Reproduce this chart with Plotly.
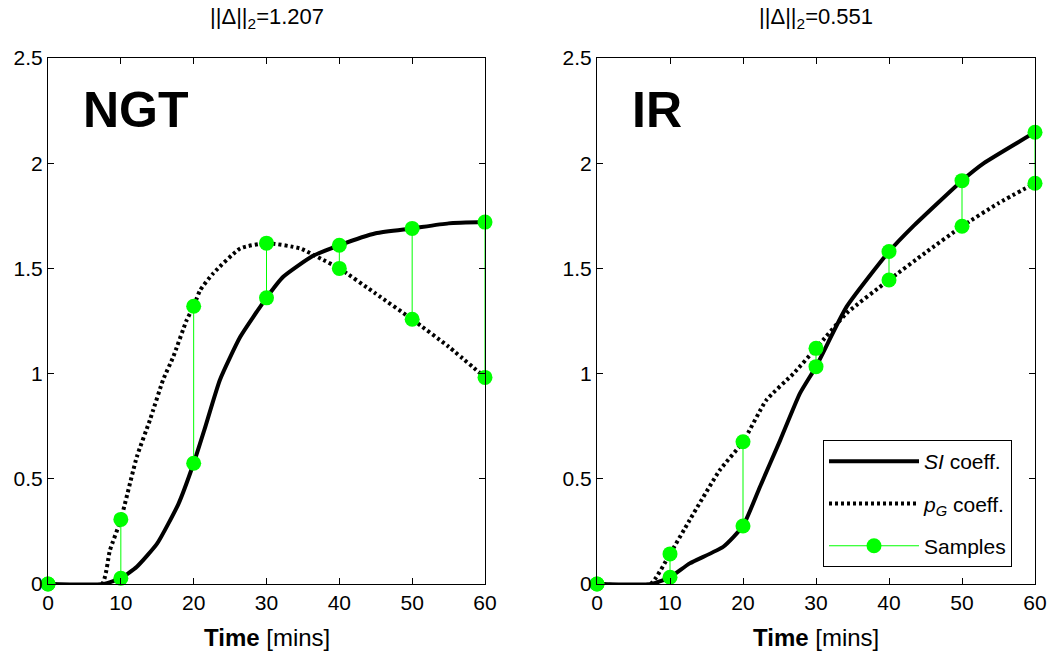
import plotly.graph_objects as go

# ---------------- data ----------------
# NGT panel
ngt_si_t = [0, 7.6, 10, 12.2, 15, 17.9, 20, 21.5, 23.6, 26.4, 30, 32.3, 36.4, 40, 45, 50, 55, 60]
ngt_si_v = [0, 0, 0.027, 0.082, 0.193, 0.38, 0.574, 0.736, 0.97, 1.175, 1.36, 1.46, 1.56, 1.61, 1.667, 1.69, 1.714, 1.72]
ngt_pg_t = [0, 7.4, 8.5, 10, 12.2, 14.0, 15.8, 17.2, 19.05, 20, 20.9, 22.7, 26.4, 30, 34.6, 37.8, 40, 45, 50, 55, 60]
ngt_pg_v = [0, 0, 0.16, 0.307, 0.605, 0.78, 0.97, 1.08, 1.255, 1.32, 1.397, 1.477, 1.595, 1.62, 1.595, 1.54, 1.50, 1.38, 1.258, 1.128, 0.982]

# IR panel
ir_si_t = [0, 7.5, 10, 12.7, 17.3, 20, 22.3, 25.1, 27.8, 30, 34.2, 40, 43.3, 50, 53, 60]
ir_si_v = [0, 0, 0.032, 0.098, 0.177, 0.276, 0.46, 0.684, 0.906, 1.033, 1.318, 1.58, 1.70, 1.917, 2.0, 2.147]
ir_pg_t = [0, 7.3, 10, 12.7, 16.8, 20, 23.2, 26.9, 30, 34.2, 40, 45, 50, 55, 60]
ir_pg_v = [0, 0, 0.143, 0.304, 0.54, 0.676, 0.874, 1.0, 1.12, 1.287, 1.445, 1.575, 1.70, 1.81, 1.905]

# samples
sample_t = [0, 10, 20, 30, 40, 50, 60]
ngt_si_samples = [0, 0.027, 0.574, 1.36, 1.61, 1.69, 1.72]
ngt_pg_samples = [0, 0.307, 1.32, 1.62, 1.50, 1.258, 0.982]
ir_si_samples = [0, 0.032, 0.276, 1.033, 1.58, 1.917, 2.147]
ir_pg_samples = [0, 0.143, 0.676, 1.12, 1.445, 1.70, 1.905]

titles = ["||Δ||<sub>2</sub>=1.207", "||Δ||<sub>2</sub>=0.551"]
panel_labels = ["NGT", "IR"]
x_ticks = [0, 10, 20, 30, 40, 50, 60]
y_ticks = [0, 0.5, 1, 1.5, 2, 2.5]
y_tick_text = ["0", "0.5", "1", "1.5", "2", "2.5"]

FONT = "Liberation Sans, Arial, Helvetica, sans-serif"
GREEN = "#00ff00"

W, H = 1050, 657
left_px = [(48, 485), (597, 1035)]
top_px, bot_px = 58, 584

fig = go.Figure()


def pairs(t, a, b):
    xs, ys = [], []
    for ti, ai, bi in zip(t, a, b):
        xs += [ti, ti, None]
        ys += [ai, bi, None]
    return xs, ys


panels = [
    (ngt_si_t, ngt_si_v, ngt_pg_t, ngt_pg_v, ngt_si_samples, ngt_pg_samples),
    (ir_si_t, ir_si_v, ir_pg_t, ir_pg_v, ir_si_samples, ir_pg_samples),
]

for i, (st, sv, pt, pv, ss, ps) in enumerate(panels):
    xa = "x" if i == 0 else "x2"
    ya = "y" if i == 0 else "y2"
    show = i == 1
    fig.add_trace(go.Scatter(x=st, y=sv, mode="lines", xaxis=xa, yaxis=ya,
                             line=dict(color="black", width=4, shape="spline", smoothing=0.5),
                             name="<i>SI</i> coeff.", showlegend=show, legendgroup="a"))
    fig.add_trace(go.Scatter(x=pt, y=pv, mode="lines", xaxis=xa, yaxis=ya,
                             line=dict(color="black", width=4, dash="3px,3px",
                                       shape="spline", smoothing=0.5),
                             name="<i>p</i><sub><i>G</i></sub> coeff.", showlegend=show, legendgroup="b"))
    sx, sy = pairs(sample_t, ss, ps)
    fig.add_trace(go.Scatter(x=sx, y=sy, mode="lines+markers", xaxis=xa, yaxis=ya,
                             line=dict(color=GREEN, width=1),
                             marker=dict(color=GREEN, size=15, line=dict(width=0)),
                             cliponaxis=False,
                             name="Samples", showlegend=show, legendgroup="c"))

axis_common = dict(showline=True, linecolor="black", linewidth=1, mirror="ticks",
                   ticks="inside", ticklen=6, tickcolor="black", showgrid=False,
                   zeroline=False, automargin=False,
                   tickfont=dict(family=FONT, size=21, color="black"))

for i, (l, r) in enumerate(left_px):
    xdom = [l / W, r / W]
    ydom = [1 - bot_px / H, 1 - top_px / H]
    suffix = "" if i == 0 else "2"
    fig.update_layout(**{
        "xaxis" + suffix: dict(domain=xdom, range=[0, 60], tickvals=x_ticks,
                               anchor="y" + suffix, **axis_common),
        "yaxis" + suffix: dict(domain=ydom, range=[0, 2.5], tickvals=y_ticks,
                               ticktext=y_tick_text, anchor="x" + suffix, **axis_common),
    })
    cx = (l + r) / 2 / W
    fig.add_annotation(x=cx, y=1 - 18 / H, xref="paper", yref="paper", text=titles[i],
                       showarrow=False, xanchor="center", yanchor="middle",
                       font=dict(family=FONT, size=22, color="black"))
    fig.add_annotation(x=cx, y=1 - 637 / H, xref="paper", yref="paper",
                       text="<b>Time</b> [mins]", showarrow=False,
                       xanchor="center", yanchor="middle",
                       font=dict(family=FONT, size=24, color="black"))
    fig.add_annotation(x=(l + 33) / W, y=1 - 110 / H, xref="paper", yref="paper",
                       text="<b>%s</b>" % panel_labels[i], showarrow=False,
                       xanchor="left", yanchor="middle",
                       font=dict(family=FONT, size=50, color="black"))

fig.update_layout(
    width=W, height=H, autosize=False,
    margin=dict(l=0, r=0, t=0, b=0),
    paper_bgcolor="white", plot_bgcolor="white",
    legend=dict(x=823 / W, y=1 - 440 / H, xanchor="left", yanchor="top",
                bgcolor="white", bordercolor="black", borderwidth=1,
                font=dict(family=FONT, size=21, color="black"),
                traceorder="grouped", tracegroupgap=12, itemwidth=90,
                entrywidth=95),
)

fig.write_html("out.html")
